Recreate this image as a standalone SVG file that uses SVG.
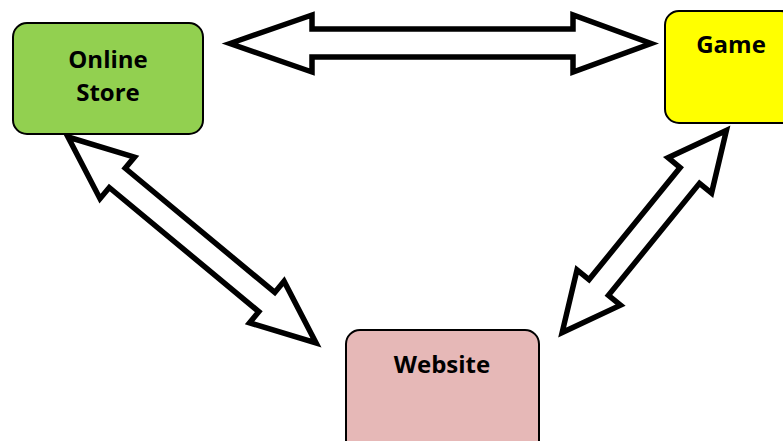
<svg xmlns="http://www.w3.org/2000/svg" width="783" height="441" viewBox="0 0 783 441">
<style>
.box{stroke:#000;stroke-width:2}
.lbl{font-family:"Open Sans","Liberation Sans",sans-serif;font-weight:700;font-size:24px;fill:#000;text-anchor:middle}
.arr{fill:#fff;stroke:#000;stroke-width:5.5;stroke-linejoin:miter;stroke-miterlimit:10}
</style>
<rect width="783" height="441" fill="#fff"/>
<g id="connectors">
<polygon class="arr" points="230,43.5 312,15 312,29 573,29 573,15 651,43.5 573,72 573,57 312,57 312,72"/>
<path class="arr" transform="translate(68,137) rotate(39.7)" d="M0,0 L64,-27 L64,-12.5 L258.4,-12.5 L258.4,-27 L322.4,0 L258.4,27 L258.4,12.5 L64,12.5 L64,27 Z"/>
<path class="arr" transform="translate(726.4,130.4) rotate(129.1)" d="M0,0 L58,-28 L58,-12.5 L202.4,-12.5 L202.4,-28 L260.4,0 L202.4,28 L202.4,12.5 L58,12.5 L58,28 Z"/>
</g>
<g id="online-store">
<rect class="box" x="13" y="23" width="190" height="111" rx="14" fill="#92d050"/>
<text class="lbl" x="108" y="68">Online</text>
<text class="lbl" x="108" y="101">Store</text>
</g>
<g id="game">
<rect class="box" x="665" y="11" width="130" height="112" rx="14" fill="#ffff00"/>
<text class="lbl" x="731" y="53">Game</text>
</g>
<g id="website">
<rect class="box" x="346" y="330" width="193" height="130" rx="14" fill="#e6b8b7"/>
<text class="lbl" x="442" y="373">Website</text>
</g>
</svg>
